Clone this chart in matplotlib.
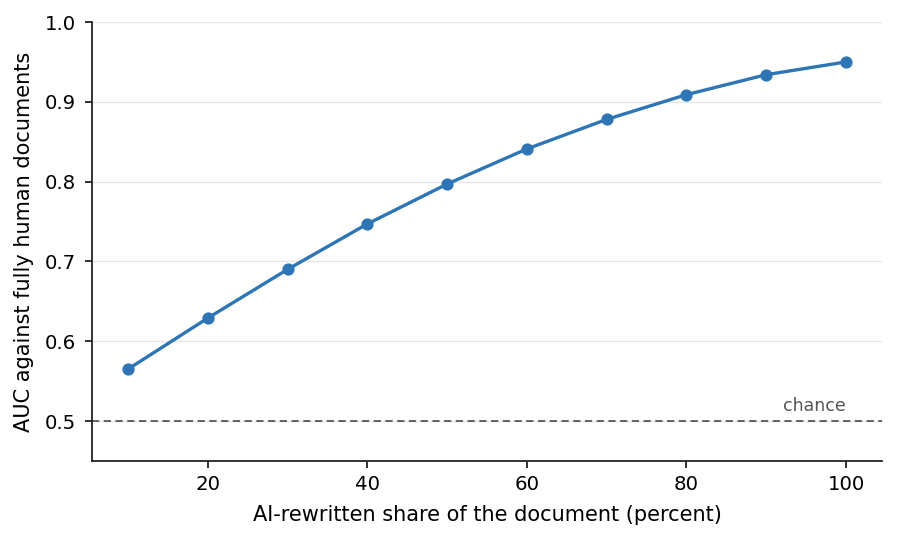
import numpy as np
import matplotlib
matplotlib.use('Agg')
import matplotlib.pyplot as plt

plt.rcParams['font.family'] = ['DejaVu Sans']

# AI-rewritten share (percent) and detector AUC
share = [10, 20, 30, 40, 50, 60, 70, 80, 90, 100]
auc = [0.565, 0.629, 0.690, 0.747, 0.797, 0.841, 0.878, 0.909, 0.934, 0.950]
chance = 0.5

fig = plt.figure(figsize=(8.97, 5.41), dpi=100)
ax = fig.add_axes([92/897, 1 - 461/541, (882 - 92)/897, (461 - 22)/541])

ax.plot(share, auc, color='#2e75b6', lw=2.4, marker='o', ms=7.8, zorder=3)
ax.axhline(chance, color='#555555', ls='--', lw=1.3, dashes=(4, 2.5), zorder=2)
ax.text(100, chance + 0.008, 'chance', ha='right', va='bottom',
        color='#555555', fontsize=12.5)

ax.set_ylim(0.45, 1.0)
ax.set_yticks([0.5, 0.6, 0.7, 0.8, 0.9, 1.0])
ax.set_xticks([20, 40, 60, 80, 100])
ax.yaxis.grid(True, color='#e6e6e6', lw=1)
ax.set_axisbelow(True)
for s in ['top', 'right']:
    ax.spines[s].set_visible(False)
for s in ['left', 'bottom']:
    ax.spines[s].set_linewidth(1.3)
    ax.spines[s].set_color('#222222')
ax.tick_params(labelsize=14.2, length=5, width=1.3, color='#222222')
ax.tick_params(axis='y', pad=6.5)
ax.tick_params(axis='x', pad=5)
ax.set_xlabel('AI-rewritten share of the document (percent)', fontsize=15, labelpad=8)
ax.set_ylabel('AUC against fully human documents', fontsize=15, labelpad=8)

fig.savefig('out.png', dpi=100)
